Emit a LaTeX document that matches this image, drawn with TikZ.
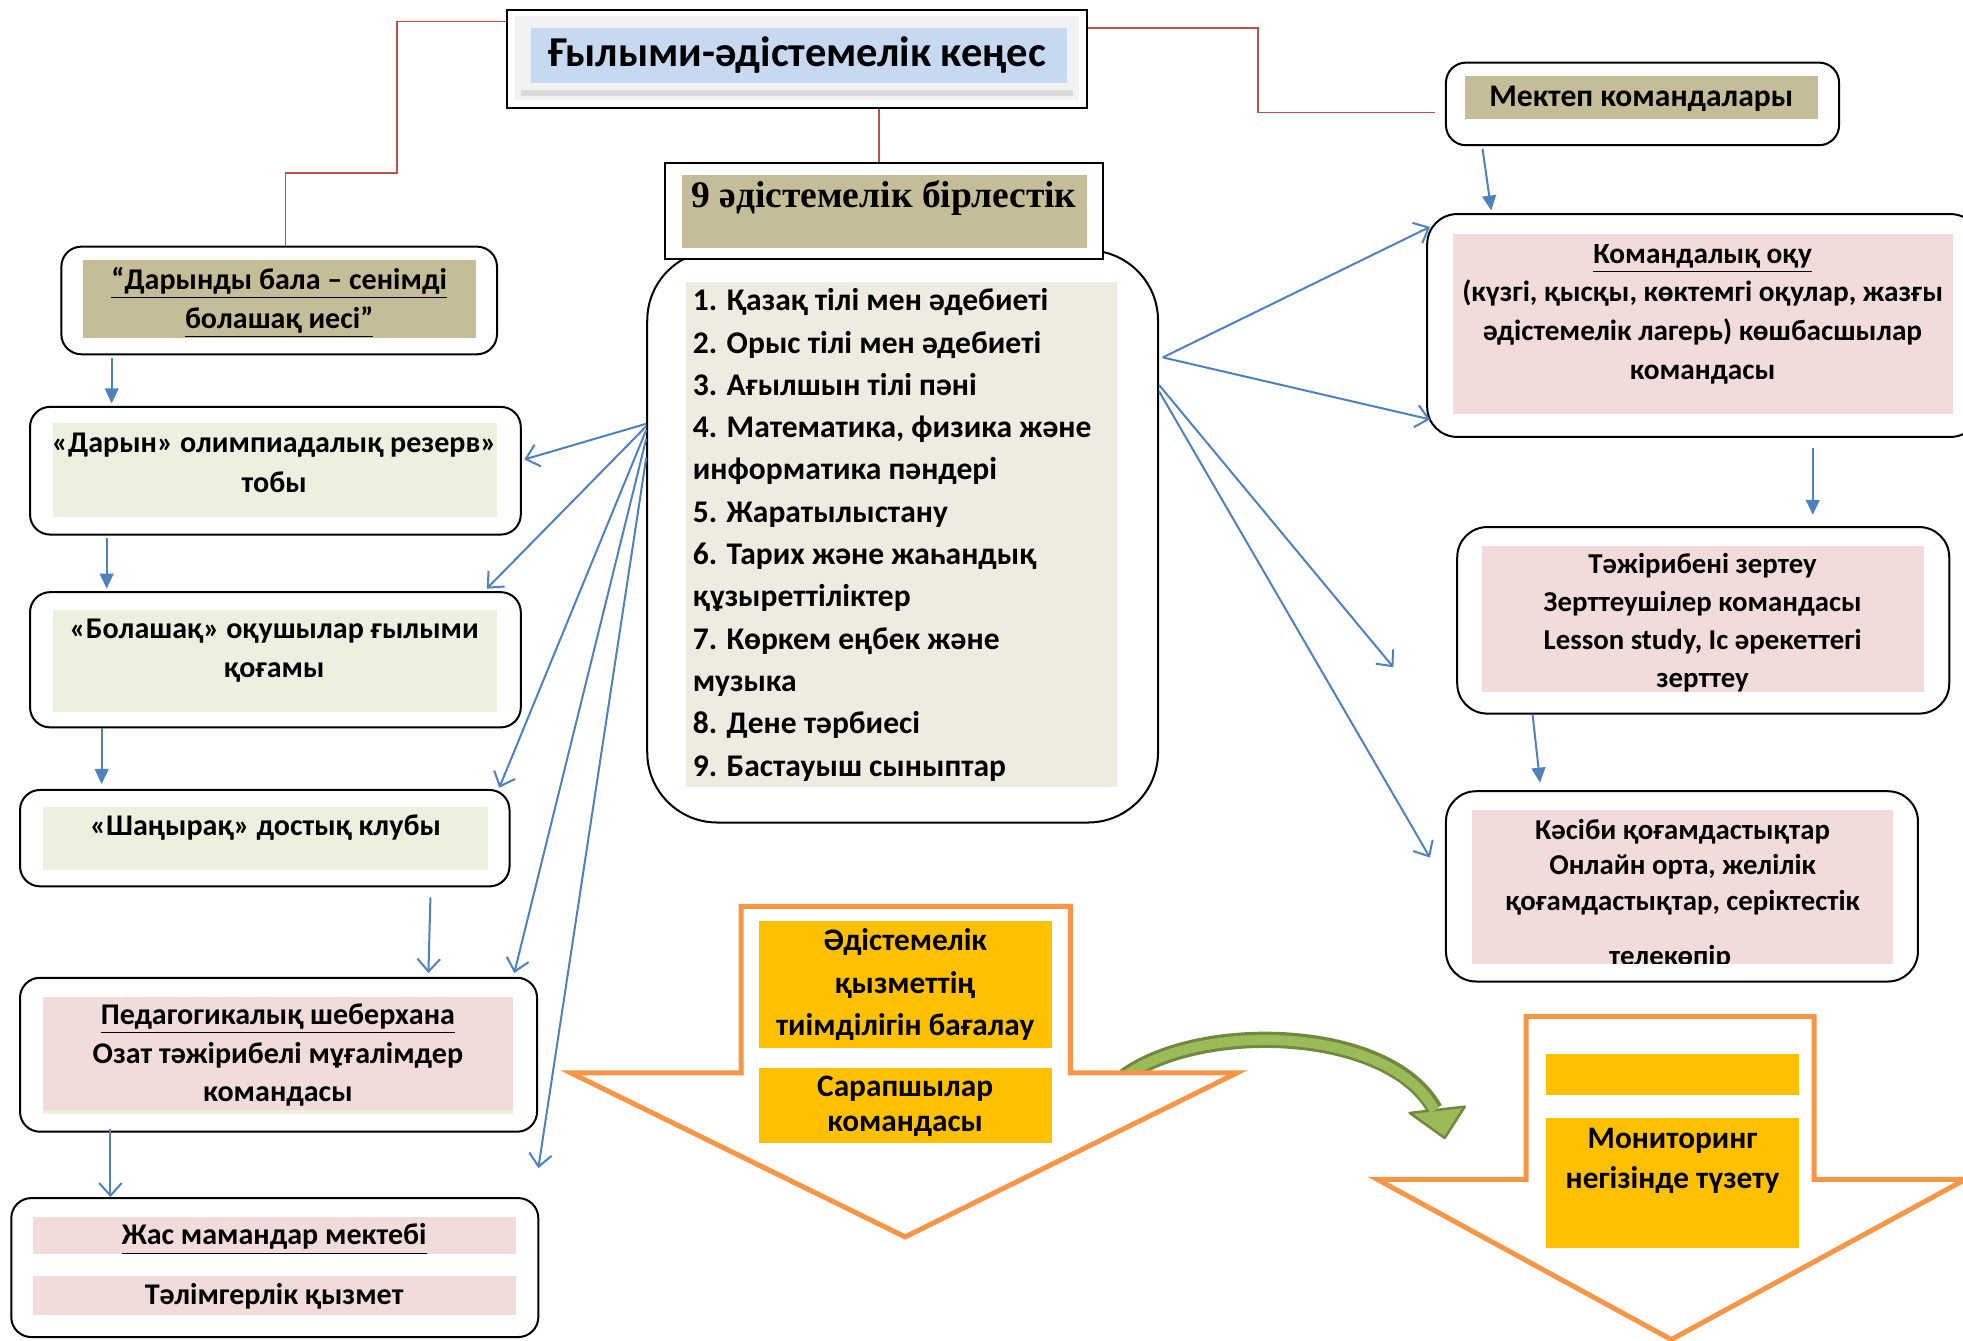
\documentclass[tikz,border=0pt]{standalone}
\usepackage{fontspec}
\setmainfont{Carlito}
\newfontfamily\tnr{Liberation Serif}
\usetikzlibrary{arrows.meta,calc,fit}
\definecolor{cblue}{HTML}{C6D9F1}
\definecolor{ctan}{HTML}{C4BD97}
\definecolor{cbeige}{HTML}{EEECE1}
\definecolor{cgreenl}{HTML}{EBF1DE}
\definecolor{cpink}{HTML}{F2DCDB}
\definecolor{cyel}{HTML}{FFC000}
\definecolor{corange}{HTML}{F79646}
\definecolor{carrow}{HTML}{4F81BD}
\definecolor{cred}{HTML}{C0504D}
\definecolor{cgr}{HTML}{9BBB59}
\definecolor{cgrd}{HTML}{71893F}
\tikzset{
  box/.style={draw=black, line width=0.8pt, rounded corners=8pt, fill=white, inner sep=0pt},
  ln/.style={inner sep=0pt, anchor=base, yshift=-3.6pt, font=\bfseries\fontsize{12}{14}\selectfont},
  lnl/.style={ln, anchor=base west},
  redline/.style={draw=cred, line width=0.6pt},
  barb/.style={draw=carrow, line width=0.8pt, -{Straight Barb[length=5pt,width=9pt]}},
  tri/.style={draw=carrow, line width=0.8pt, -{Triangle[length=6pt,width=5.5pt]}},
  orarrow/.style={draw=corange, line width=2pt, fill=white, line join=miter},
}
\newcommand\txtlines[6]{%
  \foreach \tx [count=\i] in {#6} {\node[#1] (#2-\i) at (#3,{#4+(\i-1)*#5}) {\tx};}}
\begin{document}
\begin{tikzpicture}[x=0.5pt,y=-0.5pt]
\useasboundingbox (0,0) rectangle (1568,1071);

% ---------- green curved arrow ----------
\draw[cgrd, line width=6.5pt] (898,860) .. controls (960,815) and (1110,820) .. (1146,886);
\filldraw[fill=cgr, draw=cgrd, line width=1pt, line join=round] (1126,889) -- (1170,884) -- (1154,909) -- cycle;
\draw[cgr, line width=4pt] (898,860) .. controls (960,815) and (1110,820) .. (1146,887);

% ---------- title ----------
\node[draw, line width=0.8pt, fill=white, inner sep=0pt, fit={(405,8) (868,86)}] (title) {};
\fill[gray!10] (411,13) rectangle (862,80);
\fill[gray!28] (416,72) rectangle (857,77);
\fill[cblue] (424,22) rectangle (852,66);
\node[inner sep=0pt, font=\bfseries\fontsize{17}{20}\selectfont] (titleT) at (637,44) {Ғылыми-әдістемелік кеңес};

% ---------- list box ----------
\node[box, rounded corners=28pt, fit={(517,200) (925,657)}] (list) {};
\fill[cbeige] (548,225) rectangle (892,629);
\txtlines{lnl, font=\bfseries\fontsize{12.6}{15}\selectfont}{li}{553}{241}{33.8}{%
  1. Қазақ тілі мен әдебиеті,
  2. Орыс тілі мен әдебиеті,
  3. Ағылшын тілі пәні,
  {4. Математика, физика және},
  информатика пәндері,
  5. Жаратылыстану,
  6. Тарих және жаһандық,
  құзыреттіліктер,
  7. Көркем еңбек және,
  музыка,
  8. Дене тәрбиесі,
  9. Бастауыш сыныптар}

% ---------- 9 box ----------
\node[draw, line width=1pt, fill=white, inner sep=0pt, fit={(531,130) (881,207)}] (nine) {};
\fill[ctan] (545,140) rectangle (868,198);
\node[inner sep=0pt, font=\tnr\bfseries\fontsize{15}{18}\selectfont] (nineT) at (706,158) {9 әдістемелік бірлестік};

% ---------- left column ----------
\node[box, fit={(49,197) (397,283)}] (dar) {};
\fill[ctan] (66,208) rectangle (380,270);
\txtlines{ln}{darT}{223}{224}{31}{\underline{“Дарынды бала – сенімді}, \underline{болашақ иесі”}}

\node[box, fit={(24,325) (416,427)}] (darin) {};
\fill[cgreenl] (42,338) rectangle (397,413);
\txtlines{ln}{darinT}{219}{354}{32}{«Дарын» олимпиадалық резерв», тобы}

\node[box, fit={(24,473) (416,581)}] (bol) {};
\fill[cgreenl] (42,487) rectangle (397,569);
\txtlines{ln}{bolT}{219}{503}{31}{«Болашақ» оқушылар ғылыми, қоғамы}

\node[box, fit={(16,631) (407,708)}] (shan) {};
\fill[cgreenl] (34,645) rectangle (390,695);
\txtlines{ln}{shanT}{212}{660}{31}{«Шаңырақ» достық клубы}

\node[box, fit={(16,781) (429,904)}] (ped) {};
\fill[cgreenl] (34,796) rectangle (410,890);
\fill[cpink] (34,796) rectangle (410,887);
\txtlines{ln}{pedT}{222}{811}{31}{\underline{Педагогикалық шеберхана}, Озат тәжірибелі мұғалімдер, командасы}

\node[box, fit={(9,957) (430,1068)}] (jas) {};
\fill[cpink] (26,972) rectangle (412,1002);
\fill[cpink] (26,1019) rectangle (412,1050);
\txtlines{ln}{jasT}{219}{987}{48}{\underline{Жас мамандар мектебі}, Тәлімгерлік қызмет}

% ---------- right column ----------
\node[box, fit={(1155,50) (1469,116)}] (mek) {};
\fill[ctan] (1170,61) rectangle (1452,95);
\txtlines{ln, font=\bfseries\fontsize{12.6}{15}\selectfont}{mekT}{1311}{78}{31}{Мектеп командалары}

\node[box, rounded corners=12pt, fit={(1140,171) (1582,349)}] (kom) {};
\fill[cpink] (1161,187) rectangle (1560,331);
\txtlines{ln, font=\bfseries\fontsize{11.7}{14}\selectfont}{komT}{1360}{203}{31}{\underline{Командалық оқу}, {(күзгі, қысқы, көктемгі оқулар, жазғы}, әдістемелік лагерь) көшбасшылар, командасы}

\node[box, rounded corners=12pt, fit={(1164,421) (1557,570)}] (taj) {};
\fill[cpink] (1184,436) rectangle (1537,553);
\txtlines{ln, font=\bfseries\fontsize{11.5}{14}\selectfont}{tajT}{1360}{451}{30.3}{Тәжірибені зертеу, Зерттеушілер командасы, {Lesson study, Іс әрекеттегі}, зерттеу}

\node[box, rounded corners=12pt, fit={(1155,632) (1532,784)}] (kas) {};
\fill[cpink] (1176,647) rectangle (1512,770);
\txtlines{ln, font=\bfseries\fontsize{11.5}{14}\selectfont}{kasT}{1344}{663}{28.5}{Кәсіби қоғамдастықтар, {Онлайн орта, желілік}, {қоғамдастықтар, серіктестік}}
\begin{scope}
  \clip (1176,647) rectangle (1512,770);
  \node[inner sep=0pt, anchor=base, font=\bfseries\fontsize{11.5}{14}\selectfont] (kasT-4) at (1334,771) {телекөпір};
\end{scope}

% ---------- orange arrows ----------
\draw[orarrow] (592,724) -- (855,724) -- (855,857) -- (988,857) -- (723,988) -- (456,857) -- (592,857) -- cycle;
\fill[cyel] (606,736) rectangle (840,837);
\fill[cyel] (606,853) rectangle (840,913);
\txtlines{ln, font=\bfseries\fontsize{12.5}{15}\selectfont}{aT}{723}{752}{34}{Әдістемелік, қызметтің, тиімділігін бағалау}
\txtlines{ln, font=\bfseries\fontsize{12.5}{15}\selectfont}{bT}{723}{869}{28}{Сарапшылар, командасы}

\draw[orarrow] (1219,812) -- (1449,812) -- (1449,942) -- (1570,942) -- (1335,1070) -- (1100,942) -- (1219,942) -- cycle;
\fill[cyel] (1235,842) rectangle (1437,875);
\fill[cyel] (1235,893) rectangle (1437,997);
\txtlines{ln, font=\bfseries\fontsize{12.5}{15}\selectfont}{cT}{1336}{910}{32}{Мониторинг, негізінде түзету}

% ---------- red connectors ----------
\coordinate (rl1) at (317,138);
\coordinate (rl2) at (1005,90);
\draw[redline] ($(title.north west)+(0,10)$) -| (rl1) -| ($(dar.north)+(5,0)$);
\draw[redline] ($(title.north east)+(0,15)$) -| (rl2) -- ($(mek.west)+(-8,7)$);
\draw[redline] ($(title.south)+(65.5,0)$) -- ($(nine.north)+(-4,0)$);

% ---------- blue connectors ----------
\coordinate (f1) at (430,933);
\coordinate (f2) at (1113,533);
\draw[barb] ($(list.west)+(0,-90)$) -- ($(darin.east)+(2,-9)$);
\draw[barb] ($(list.west)+(0,-88)$) -- ($(bol.north east)+(-28,-2)$);
\draw[barb] ($(list.west)+(0,-85)$) -- ($(shan.north east)+(-9,-1)$);
\draw[barb] ($(list.west)+(0,-78)$) -- ($(ped.north east)+(-19,-3)$);
\draw[barb] ($(list.west)+(0,-63)$) -- (f1);
\draw[barb] ($(list.east)+(3,-143)$) -- ($(kom.north west)+(3,11)$);
\draw[barb] ($(list.east)+(3,-143)$) -- ($(kom.west)+(3,75)$);
\draw[barb] ($(list.east)+(0,-121)$) -- (f2);
\draw[barb] ($(list.east)+(0,-116)$) -- ($(kas.west)+(-12,-23)$);

\draw[tri] ($(dar.south west)+(41,2)$) -- ($(darin.north west)+(66,-2)$);
\draw[tri] ($(darin.south west)+(62,2)$) -- ($(bol.north west)+(62,-2)$);
\draw[tri] ($(bol.south west)+(58,0)$) -- ($(shan.north west)+(66,-4)$);
\draw[barb] ($(shan.south east)+(-64,8)$) -- ($(ped.north west)+(327,-3)$);
\draw[barb] ($(ped.south west)+(73,-3)$) -- ($(jas.north west)+(80,0)$);
\draw[tri] ($(mek.south west)+(30,2)$) -- ($(kom.north west)+(52,-2)$);
\draw[tri] ($(kom.south)+(87,8)$) -- ($(taj.north)+(87.5,-9)$);
\draw[tri] ($(taj.south west)+(61,0)$) -- ($(kas.north west)+(76,-6)$);
\end{tikzpicture}
\end{document}
